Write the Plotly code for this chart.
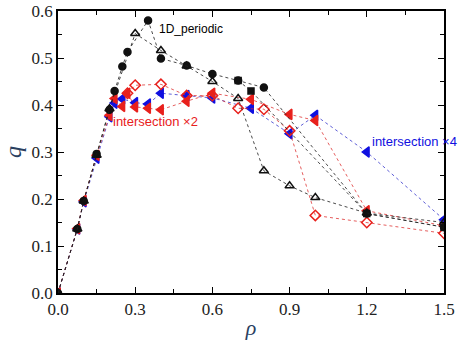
import plotly.graph_objects as go

# ---- data ----
circ_x = [0, 0.075, 0.1, 0.15, 0.2, 0.22, 0.25, 0.27, 0.35, 0.4, 0.5, 0.6, 0.7, 0.8, 1.2, 1.5]
circ_y = [0, 0.136, 0.196, 0.296, 0.39, 0.43, 0.482, 0.513, 0.58, 0.499, 0.484, 0.466, 0.452, 0.437, 0.169, 0.14]

tri_x = [0, 0.075, 0.1, 0.15, 0.2, 0.3, 0.4, 0.5, 0.6, 0.7, 0.8, 0.9, 1.0, 1.2, 1.5]
tri_y = [0, 0.136, 0.196, 0.293, 0.392, 0.552, 0.516, 0.483, 0.45, 0.414, 0.26, 0.228, 0.203, 0.17, 0.15]

sq_x = [0.7, 0.75, 1.2, 1.5]
sq_y = [0.452, 0.43, 0.169, 0.14]

red_x = [0, 0.075, 0.1, 0.15, 0.2, 0.22, 0.25, 0.27, 0.3, 0.35, 0.4, 0.5, 0.6, 0.75, 0.9, 1.0, 1.2, 1.5]
red_y = [0, 0.137, 0.197, 0.293, 0.378, 0.414, 0.397, 0.425, 0.396, 0.393, 0.39, 0.408, 0.425, 0.412, 0.38, 0.367, 0.175, 0.143]

dia_x = [0.27, 0.3, 0.4, 0.5, 0.6, 0.7, 0.8, 0.9, 1.0, 1.2, 1.5]
dia_y = [0.425, 0.442, 0.444, 0.42, 0.42, 0.393, 0.391, 0.345, 0.165, 0.15, 0.127]

blue_x = [0, 0.075, 0.1, 0.15, 0.2, 0.22, 0.25, 0.3, 0.35, 0.4, 0.5, 0.6, 0.75, 0.9, 1.0, 1.2, 1.5]
blue_y = [0, 0.136, 0.194, 0.287, 0.375, 0.404, 0.413, 0.405, 0.402, 0.425, 0.42, 0.415, 0.393, 0.339, 0.378, 0.30, 0.156]

x_ticks = [0.0, 0.3, 0.6, 0.9, 1.2, 1.5]
x_tick_text = ["0.0", "0.3", "0.6", "0.9", "1.2", "1.5"]
y_ticks = [0.0, 0.1, 0.2, 0.3, 0.4, 0.5, 0.6]
y_tick_text = ["0.0", "0.1", "0.2", "0.3", "0.4", "0.5", "0.6"]

BLACK = "#111111"
RED = "#e8201c"
BLUE = "#1010e0"
SERIF = "Liberation Serif, Times New Roman, serif"

fig = go.Figure()

def add(x, y, color, linecolor, symbol, size, fill=None):
    fig.add_trace(go.Scatter(
        x=x, y=y, mode="lines+markers",
        line=dict(color=linecolor, width=1, dash="dot"),
        marker=dict(symbol=symbol, size=size, color=fill if fill else color,
                    line=dict(color=color, width=1.5)),
        showlegend=False,
    ))

add(blue_x, blue_y, BLUE, "rgba(40,40,200,0.75)", "triangle-left", 9)
add(red_x, red_y, RED, "rgba(220,40,40,0.75)", "triangle-left", 9)
add(dia_x, dia_y, RED, "rgba(220,40,40,0.75)", "diamond-open", 8)
add(sq_x, sq_y, BLACK, "rgba(30,30,30,0.8)", "square", 6)
add(circ_x, circ_y, BLACK, "rgba(30,30,30,0.8)", "circle", 7)
add(tri_x, tri_y, BLACK, "rgba(30,30,30,0.8)", "triangle-up-open", 8)

fig.add_annotation(x=0.385, y=0.562, text="1D_periodic", showarrow=False, xanchor="left",
                   font=dict(family="Liberation Sans", size=12, color="black"))
fig.add_annotation(x=0.38, y=0.364, text="intersection ×2", showarrow=False,
                   font=dict(family="Liberation Sans", size=13, color=RED))
fig.add_annotation(x=1.213, y=0.323, text="intersection ×4", showarrow=False, xanchor="left",
                   font=dict(family="Liberation Sans", size=13, color=BLUE))

axis_common = dict(
    showline=True, linecolor="black", linewidth=1.5, mirror="ticks",
    ticks="inside", ticklen=6, tickwidth=1.2, tickcolor="black",
    showgrid=False, zeroline=False, automargin=False,
    tickfont=dict(family=SERIF, size=17, color="#222"),
)

fig.update_layout(
    width=462, height=340,
    margin=dict(l=58, r=18, t=11, b=47),
    paper_bgcolor="white", plot_bgcolor="white",
    xaxis=dict(range=[0, 1.5], tickvals=x_ticks, ticktext=x_tick_text,
               minor=dict(ticks="inside", ticklen=4, dtick=0.15, tick0=0, tickcolor="black"),
               title=dict(text="<i>ρ</i>", font=dict(family=SERIF, size=22), standoff=4),
               **axis_common),
    yaxis=dict(range=[0, 0.6], tickvals=y_ticks, ticktext=y_tick_text,
               minor=dict(ticks="inside", ticklen=4, dtick=0.05, tick0=0, tickcolor="black"),
               title=dict(text="<i>q</i>", font=dict(family=SERIF, size=24), standoff=8),
               **axis_common),
)

fig.write_html("out.html", config={"displayModeBar": False},
               post_script="document.body.style.margin='0';")
